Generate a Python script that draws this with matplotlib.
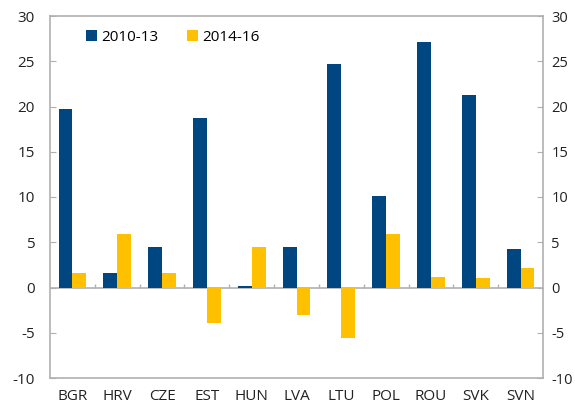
import numpy as np
import matplotlib.pyplot as plt

countries = ['BGR', 'HRV', 'CZE', 'EST', 'HUN', 'LVA', 'LTU', 'POL', 'ROU', 'SVK', 'SVN']
p2010_13 = [19.7, 1.55, 4.5, 18.7, 0.2, 4.5, 24.75, 10.1, 27.1, 21.25, 4.3]
p2014_16 = [1.55, 5.9, 1.65, -3.9, 4.5, -3.05, -5.55, 5.9, 1.2, 1.0, 2.15]
labels = ['2010-13', '2014-16']

blue = '#004680'
yellow = '#FFC000'
grey = '#B0B0B0'

plt.rcParams['font.family'] = ['Open Sans', 'DejaVu Sans']
plt.rcParams['axes.unicode_minus'] = False

fig = plt.figure(figsize=(5.75, 4.05), dpi=100)
ax = fig.add_axes([50 / 575, 27 / 405, 493 / 575, 362 / 405])

x = np.arange(len(countries))
w = 0.31
ax.bar(x - w / 2, p2010_13, w, color=blue, label=labels[0], zorder=3)
ax.bar(x + w / 2, p2014_16, w, color=yellow, label=labels[1], zorder=3)

ax.set_xlim(-0.5, len(countries) - 0.5)
ax.set_ylim(-10, 30)
ax.set_yticks(range(-10, 31, 5))

# zero line with small category separators
ax.axhline(0, color=grey, lw=1.2, zorder=2)
ax.vlines(np.arange(len(countries) - 1) + 0.5, 0, 0.35, color=grey, lw=1, zorder=2)

ax.set_xticks(x)
ax.set_xticklabels(countries)
ax.tick_params(axis='x', length=0, pad=8, labelsize=11, colors='#222222')
ax.tick_params(axis='y', direction='in', length=4, color=grey, labelsize=11,
               labelcolor='#222222', left=True, right=True, pad=11)

for s in ax.spines.values():
    s.set_color(grey)
    s.set_linewidth(1.2)

ax2 = ax.twinx()
ax2.set_ylim(-10, 30)
ax2.set_yticks(range(-10, 31, 5))
ax2.tick_params(axis='y', direction='in', length=4, color=grey, labelsize=10.5,
                labelcolor='#222222', pad=6)
for s in ax2.spines.values():
    s.set_visible(False)

ax.legend(loc='upper left', bbox_to_anchor=(0.045, 1.0), ncol=2, frameon=False,
          fontsize=11, handlelength=0.7, handleheight=0.7, handletextpad=0.3,
          columnspacing=1.9)

fig.savefig('out.png', dpi=100)
